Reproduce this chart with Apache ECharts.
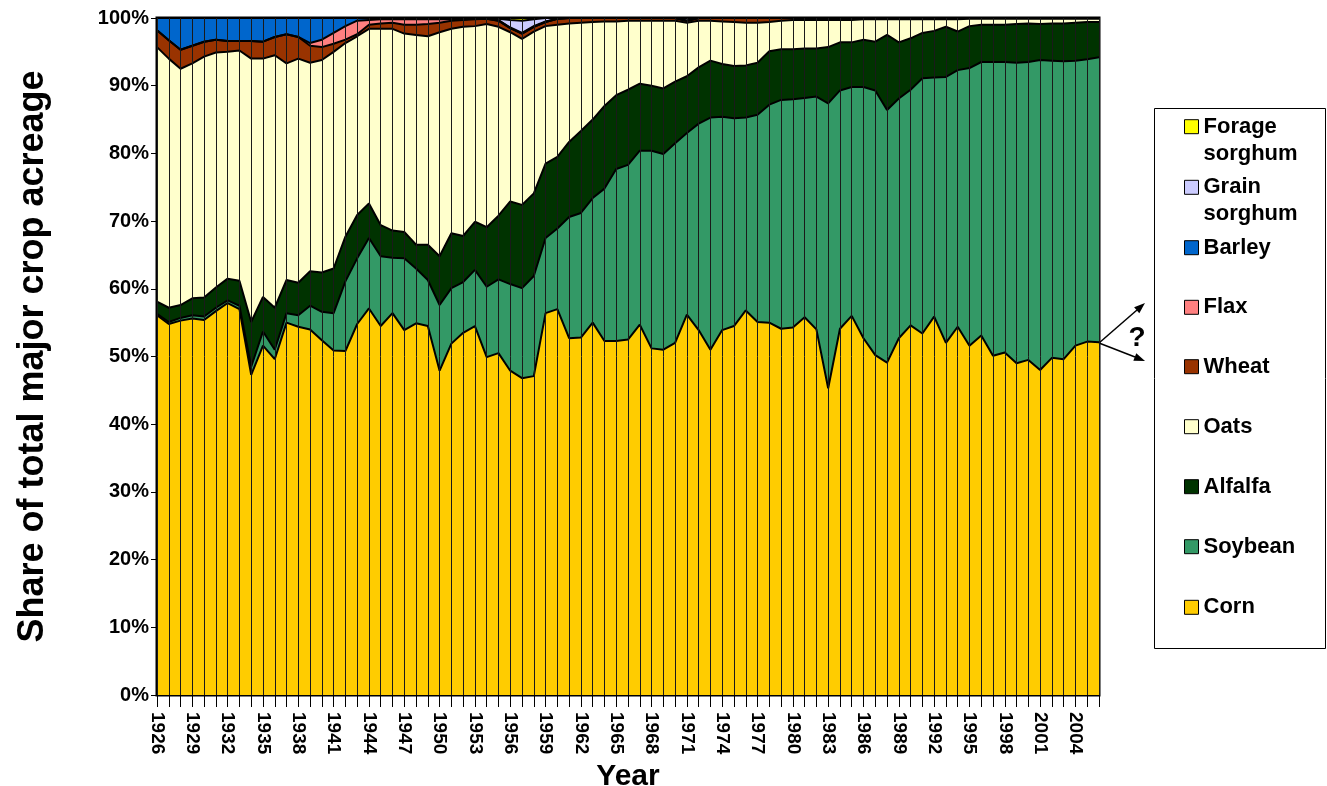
<!DOCTYPE html>
<html>
<head>
<meta charset="utf-8">
<script src="https://cdn.jsdelivr.net/npm/echarts@6/dist/echarts.min.js"></script>
<style>
html,body{margin:0;padding:0;background:#fff;}
#chart{width:1327px;height:786px;}
</style>
</head>
<body>
<div id="chart"></div>
<script>
const years = [
'1926','1927','1928','1929','1930','1931','1932','1933','1934','1935',
'1936','1937','1938','1939','1940','1941','1942','1943','1944','1945',
'1946','1947','1948','1949','1950','1951','1952','1953','1954','1955',
'1956','1957','1958','1959','1960','1961','1962','1963','1964','1965',
'1966','1967','1968','1969','1970','1971','1972','1973','1974','1975',
'1976','1977','1978','1979','1980','1981','1982','1983','1984','1985',
'1986','1987','1988','1989','1990','1991','1992','1993','1994','1995',
'1996','1997','1998','1999','2000','2001','2002','2003','2004','2005',
'2006'];

const corn = [
56.1,54.8,55.3,55.6,55.4,56.7,57.9,57.0,47.3,51.6,
49.6,55.0,54.4,54.0,52.4,50.9,50.8,54.8,57.1,54.5,
56.4,53.9,54.9,54.5,47.9,51.9,53.5,54.5,49.9,50.5,
47.9,46.8,47.1,56.4,57.0,52.7,52.8,55.0,52.3,52.3,
52.5,54.7,51.2,51.0,52.0,56.2,53.9,51.0,53.9,54.5,
56.8,55.1,55.0,54.1,54.3,55.8,54.0,45.3,54.1,56.0,
52.7,50.2,49.1,52.7,54.6,53.4,55.9,52.0,54.4,51.6,
53.1,50.1,50.6,49.0,49.5,48.0,49.8,49.6,51.6,52.2,
52.1];

const soybean = [
0.2,0.3,0.4,0.5,0.5,0.5,0.4,0.5,1.2,2.1,
1.4,1.4,1.7,3.5,4.2,5.5,10.3,9.7,10.4,10.3,
8.2,10.6,8.1,6.8,9.7,8.2,7.5,8.3,10.4,10.9,
12.8,13.3,14.8,11.1,11.9,17.9,18.4,18.4,22.5,25.4,
25.8,25.7,29.2,28.9,29.5,26.8,30.5,34.3,31.5,30.7,
28.5,30.6,32.2,33.8,33.7,32.4,34.4,42.1,35.2,33.8,
37.1,39.1,37.3,35.4,34.8,37.7,35.3,39.3,37.9,41.0,
40.4,43.4,42.9,44.4,44.0,45.8,43.9,44.0,42.1,41.7,
42.1];

const alfalfa = [
1.8,2.1,1.9,2.5,2.8,3.0,3.2,3.7,6.6,5.1,
6.2,4.9,4.8,5.1,5.8,6.6,6.6,6.4,5.1,4.6,
4.0,3.9,3.5,5.2,7.2,8.1,6.8,7.1,8.8,9.4,
12.2,12.3,12.2,11.0,10.6,11.1,12.1,11.6,12.2,10.9,
11.1,9.9,9.6,9.7,9.1,8.4,8.3,8.4,7.8,7.7,
7.7,7.7,7.9,7.5,7.4,7.3,7.1,8.3,7.1,6.6,
7.0,7.2,11.1,8.3,7.6,6.7,6.9,7.4,5.7,6.2,
5.5,5.5,5.5,5.7,5.7,5.3,5.5,5.6,5.6,5.5,
5.2];

const oats = [
37.6,36.8,34.9,34.7,35.6,34.7,33.5,34.0,38.9,35.2,
37.3,32.0,33.1,30.8,31.4,32.0,28.6,26.4,25.8,29.0,
29.8,29.3,31.0,30.8,33.1,30.2,30.9,28.9,30.0,27.9,
25.0,24.5,23.9,20.3,19.5,17.5,16.0,14.4,12.5,10.9,
10.2,9.3,9.6,10.0,9.0,7.9,6.9,5.9,6.3,6.5,
6.3,5.9,4.3,4.2,4.3,4.2,4.2,4.0,3.3,3.3,
3.0,3.3,2.3,3.4,2.8,2.0,1.7,1.1,1.8,1.1,
0.9,0.9,0.9,0.8,0.7,0.8,0.7,0.7,0.6,0.5,
0.5];

const wheat = [
2.5,2.7,2.8,2.6,2.2,1.9,1.6,1.4,2.6,2.5,
2.7,4.3,3.2,2.5,1.9,1.2,0.5,0.3,0.6,0.8,
0.9,1.3,1.5,1.8,1.4,1.2,1.0,1.0,0.8,0.9,
0.6,0.8,0.7,0.6,0.9,0.8,0.7,0.6,0.5,0.5,
0.4,0.4,0.4,0.4,0.4,0.3,0.4,0.4,0.5,0.6,
0.7,0.7,0.6,0.4,0.3,0.3,0.3,0.3,0.3,0.3,
0.2,0.2,0.2,0.2,0.2,0.2,0.2,0.2,0.2,0.1,
0.1,0.1,0.1,0.1,0.1,0.1,0.1,0.1,0.1,0.1,
0.1];

const flax = [
0,0,0,0,0,0,0,0,0,0,
0,0,0,0.4,1.1,1.6,2.0,2.0,0.7,0.6,
0.5,0.8,0.8,0.7,0.5,0.2,0.1,0.1,0,0,
0,0,0,0,0,0,0,0,0,0,
0,0,0,0,0,0,0,0,0,0,
0,0,0,0,0,0,0,0,0,0,
0,0,0,0,0,0,0,0,0,0,
0,0,0,0,0,0,0,0,0,0,
0];

const barley = [
1.8,3.3,4.7,4.1,3.5,3.2,3.4,3.4,3.4,3.5,
2.8,2.4,2.8,3.7,3.2,2.2,1.2,0.4,0.3,0.2,
0.2,0.2,0.2,0.2,0.2,0.2,0.2,0.1,0.1,0.1,
0.1,0.1,0.1,0.1,0,0,0,0,0,0,
0,0,0,0,0,0,0,0,0,0,
0,0,0,0,0,0,0,0,0,0,
0,0,0,0,0,0,0,0,0,0,
0,0,0,0,0,0,0,0,0,0,
0];

const grainSorghum = [
0,0,0,0,0,0,0,0,0,0,
0,0,0,0,0,0,0,0,0,0,
0,0,0,0,0,0,0,0,0,0.2,
1.1,1.8,1.0,0.5,0.1,0,0,0,0,0,
0,0,0,0,0,0.4,0,0,0,0,
0,0,0,0,0,0,0,0,0,0,
0,0,0,0,0,0,0,0,0,0,
0,0,0,0,0,0,0,0,0,0,
0];

const forageSorghum = [
0,0,0,0,0,0,0,0,0,0,
0,0,0,0,0,0,0,0,0,0,
0,0,0,0,0,0,0,0,0,0.1,
0.3,0.4,0.2,0,0,0,0,0,0,0,
0,0,0,0,0,0,0,0,0,0,
0,0,0,0,0,0,0,0,0,0,
0,0,0,0,0,0,0,0,0,0,
0,0,0,0,0,0,0,0,0,0,
0];

const yTicks = ['0%','10%','20%','30%','40%','50%','60%','70%','80%','90%','100%'];

const FONT = '"Liberation Sans", Arial, Helvetica, sans-serif';

const crops = [
  {name:'Corn', data:corn, color:'#FFCC00'},
  {name:'Soybean', data:soybean, color:'#339966'},
  {name:'Alfalfa', data:alfalfa, color:'#003300'},
  {name:'Oats', data:oats, color:'#FFFFCC'},
  {name:'Wheat', data:wheat, color:'#993300'},
  {name:'Flax', data:flax, color:'#FF8080'},
  {name:'Barley', data:barley, color:'#0066CC'},
  {name:'Grain sorghum', data:grainSorghum, color:'#CCCCFF'},
  {name:'Forage sorghum', data:forageSorghum, color:'#FFFF00'}
];

const series = crops.map((c, i) => {
  const s = {
    name: c.name,
    type: 'line',
    stack: 'total',
    data: c.data,
    symbol: 'none',
    smooth: false,
    itemStyle: {color: c.color},
    lineStyle: {color: '#000', width: 2},
    areaStyle: {color: c.color, opacity: 1},
    emphasis: {disabled: true},
    animation: false
  };
  if (i === crops.length - 1) {
    s.markLine = {
      silent: true,
      symbol: ['none','none'],
      label: {show: false},
      animation: false,
      lineStyle: {color: '#1a1a1a', width: 1, type: 'solid'},
      data: years.map(y => ({xAxis: y}))
    };
  }
  return s;
});

// legend layout (top-down order), icon centres
const legendOrder = ['Forage sorghum','Grain sorghum','Barley','Flax','Wheat','Oats','Alfalfa','Soybean','Corn'];
const legendCenters = [126.7,187.3,247.7,307.3,366.7,426.7,486.7,546.7,607.3];
const legends = legendOrder.map((n, i) => {
  const two = n.indexOf('sorghum') >= 0;
  return {
    data: [n],
    left: 1184,
    top: two ? legendCenters[i] - 40.5 : legendCenters[i] - 11,
    padding: 0,
    icon: 'rect',
    itemWidth: 14,
    itemHeight: 14,
    selectedMode: false,
    itemStyle: {borderColor: '#000', borderWidth: 1},
    formatter: two ? (name) => '\n' + name.replace(' ', '\n') : '{name}',
    textStyle: two ? {fontFamily: FONT, fontSize: 22, fontWeight: 'bold', color: '#000', lineHeight: 27}
                   : {fontFamily: FONT, fontSize: 22, fontWeight: 'bold', color: '#000'}
  };
});

const chart = echarts.init(document.getElementById('chart'), null, {renderer: 'canvas'});
chart.setOption({
  animation: false,
  backgroundColor: '#fff',
  textStyle: {fontFamily: FONT},
  grid: {left: 157, right: 228, top: 18, bottom: 91, containLabel: false, outerBoundsMode: 'none',
         show: true, borderColor: '#000', borderWidth: 3, backgroundColor: 'transparent'},
  legend: legends,
  xAxis: {
    type: 'category',
    data: years,
    boundaryGap: false,
    name: 'Year',
    nameLocation: 'middle',
    nameGap: 63,
    nameTextStyle: {fontFamily: FONT, fontSize: 30, fontWeight: 'bold', color: '#000'},
    axisLine: {lineStyle: {color: '#000', width: 2}},
    axisTick: {interval: 0, length: 12, lineStyle: {color: '#000', width: 1}},
    axisLabel: {interval: 2, rotate: -90, fontFamily: FONT, fontSize: 19, fontWeight: 'bold', color: '#000', margin: 17},
    splitLine: {show: false}
  },
  yAxis: {
    type: 'value',
    min: 0, max: 100, interval: 10,
    name: 'Share of total major crop acreage',
    nameLocation: 'middle',
    nameGap: 106,
    nameTextStyle: {fontFamily: FONT, fontSize: 36, fontWeight: 'bold', color: '#000'},
    axisLine: {show: true, lineStyle: {color: '#000', width: 2}},
    axisTick: {show: true, length: 6, lineStyle: {color: '#000'}},
    axisLabel: {fontFamily: FONT, fontSize: 20, fontWeight: 'bold', color: '#000', margin: 8,
      formatter: (v) => yTicks[Math.round(v / 10)]},
    splitLine: {show: false}
  },
  graphic: [
    {type: 'rect', shape: {x: 1154.5, y: 108.5, width: 171, height: 540}, style: {fill: '#fff', stroke: '#000', lineWidth: 1}, z: 1, silent: true},
    {type: 'line', shape: {x1: 1099, y1: 343, x2: 1137, y2: 310}, style: {stroke: '#000', lineWidth: 1.5}, z: 5, silent: true},
    {type: 'polygon', shape: {points: [[1145,303],[1139.3,313.2],[1134.1,307.2]]}, style: {fill: '#000'}, z: 5, silent: true},
    {type: 'line', shape: {x1: 1099, y1: 343, x2: 1135, y2: 357}, style: {stroke: '#000', lineWidth: 1.5}, z: 5, silent: true},
    {type: 'polygon', shape: {points: [[1145,361],[1133.3,360.7],[1136.3,353.3]]}, style: {fill: '#000'}, z: 5, silent: true},
    {type: 'text', x: 1137, y: 338, style: {text: '?', fontFamily: FONT, fontSize: 28, fontWeight: 'bold', fill: '#000', align: 'center', verticalAlign: 'middle'}, z: 5, silent: true}
  ],
  series: series
});
</script>
</body>
</html>
